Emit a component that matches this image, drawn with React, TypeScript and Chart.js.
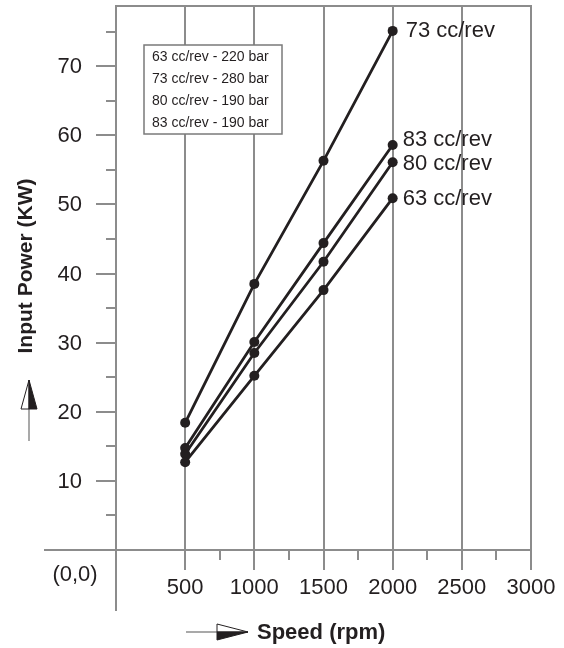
import React, { useEffect, useRef } from "react";
import { Chart, registerables } from "chart.js";

Chart.register(...registerables);

// ---- data ----
const speeds = [500, 1000, 1500, 2000];
const power63 = [12.7, 25.2, 37.6, 50.9];
const power73 = [18.4, 38.5, 56.3, 75.1];
const power80 = [13.9, 28.5, 41.7, 56.1];
const power83 = [14.75, 30.1, 44.4, 58.6];
const seriesNames = ["63 cc/rev", "73 cc/rev", "80 cc/rev", "83 cc/rev"];
const legendLines = [
  "63 cc/rev - 220 bar",
  "73 cc/rev - 280 bar",
  "80 cc/rev - 190 bar",
  "83 cc/rev - 190 bar",
];
const xMajorTicks = [500, 1000, 1500, 2000, 2500, 3000];
const xMinorTicks = [750, 1250, 1750, 2250, 2750];
const yMajorTicks = [10, 20, 30, 40, 50, 60, 70];
const yMinorTicks = [5, 15, 25, 35, 45, 55, 65, 75];
const xMax = 3000;
const yMax = 78.7;

const INK = "#231f20";
const GRAY = "#8c8c8c";
const FONT = "'Liberation Sans', Arial, Helvetica, sans-serif";

// label offsets relative to the last point of each series
const endLabelOffsets: Record<string, [number, number]> = {
  "63 cc/rev": [10, 1],
  "73 cc/rev": [13, 0],
  "80 cc/rev": [10, 2],
  "83 cc/rev": [10, -5],
};

const framePlugin = {
  id: "frame",
  beforeDatasetsDraw(chart: any) {
    const { ctx, chartArea, scales } = chart;
    const xs = scales.x;
    const ys = scales.y;
    const x0 = xs.getPixelForValue(0);
    const y0 = ys.getPixelForValue(0);
    const top = chartArea.top;
    const right = xs.getPixelForValue(xMax);
    ctx.save();
    ctx.strokeStyle = GRAY;
    ctx.lineWidth = 2;
    ctx.lineCap = "butt";
    xMajorTicks.forEach((v) => {
      const px = Math.round(xs.getPixelForValue(v));
      ctx.beginPath();
      ctx.moveTo(px, top);
      ctx.lineTo(px, y0 + 20);
      ctx.stroke();
    });
    xMinorTicks.forEach((v) => {
      const px = Math.round(xs.getPixelForValue(v));
      ctx.beginPath();
      ctx.moveTo(px, y0);
      ctx.lineTo(px, y0 + 10);
      ctx.stroke();
    });
    ctx.beginPath();
    ctx.moveTo(x0, top);
    ctx.lineTo(right + 1, top);
    ctx.stroke();
    ctx.beginPath();
    ctx.moveTo(Math.round(x0), top - 1);
    ctx.lineTo(Math.round(x0), y0 + 61);
    ctx.stroke();
    ctx.beginPath();
    ctx.moveTo(x0 - 72, Math.round(y0));
    ctx.lineTo(right + 1, Math.round(y0));
    ctx.stroke();
    yMajorTicks.forEach((v) => {
      const py = Math.round(ys.getPixelForValue(v));
      ctx.beginPath();
      ctx.moveTo(x0 - 20, py);
      ctx.lineTo(x0, py);
      ctx.stroke();
    });
    yMinorTicks.forEach((v) => {
      const py = Math.round(ys.getPixelForValue(v));
      ctx.beginPath();
      ctx.moveTo(x0 - 10, py);
      ctx.lineTo(x0, py);
      ctx.stroke();
    });

    // legend box
    const bx = 144, by = 45, bw = 138, bh = 89;
    ctx.fillStyle = "#ffffff";
    ctx.fillRect(bx, by, bw, bh);
    ctx.lineWidth = 1.5;
    ctx.strokeStyle = "#7a7a7a";
    ctx.strokeRect(bx, by, bw, bh);
    ctx.fillStyle = INK;
    ctx.font = `14px ${FONT}`;
    ctx.textAlign = "left";
    ctx.textBaseline = "middle";
    legendLines.forEach((t, i) => {
      ctx.fillText(t, bx + 8, by + 12 + i * 22);
    });
    ctx.restore();
  },
  afterDraw(chart: any) {
    const { ctx, scales } = chart;
    const xs = scales.x;
    const ys = scales.y;
    const x0 = xs.getPixelForValue(0);
    const y0 = ys.getPixelForValue(0);
    ctx.save();
    ctx.fillStyle = INK;
    ctx.font = `22px ${FONT}`;
    ctx.textAlign = "center";
    ctx.textBaseline = "middle";
    xMajorTicks.forEach((v) => {
      ctx.fillText(String(v), xs.getPixelForValue(v), y0 + 38);
    });
    ctx.textAlign = "right";
    yMajorTicks.forEach((v) => {
      ctx.fillText(String(v), x0 - 34, ys.getPixelForValue(v) + 1);
    });
    ctx.textAlign = "center";
    ctx.fillText("(0,0)", x0 - 41, y0 + 25);

    ctx.textAlign = "left";
    chart.data.datasets.forEach((ds: any, i: number) => {
      const meta = chart.getDatasetMeta(i);
      const last = meta.data[meta.data.length - 1];
      const off = endLabelOffsets[ds.label] || [10, 0];
      ctx.fillText(ds.label, last.x + off[0], last.y + off[1]);
    });

    ctx.font = `bold 22px ${FONT}`;
    ctx.textAlign = "left";
    ctx.fillText("Speed (rpm)", 257, 633);
    ctx.save();
    ctx.translate(26, 266);
    ctx.rotate(-Math.PI / 2);
    ctx.textAlign = "center";
    ctx.font = `bold 21px ${FONT}`;
    ctx.fillText("Input Power (KW)", 0, 0);
    ctx.restore();

    // y arrow
    ctx.strokeStyle = GRAY;
    ctx.lineWidth = 1.5;
    ctx.beginPath();
    ctx.moveTo(29, 441);
    ctx.lineTo(29, 405);
    ctx.stroke();
    ctx.lineWidth = 1;
    ctx.strokeStyle = INK;
    ctx.fillStyle = "#ffffff";
    ctx.beginPath();
    ctx.moveTo(29, 380);
    ctx.lineTo(21, 409);
    ctx.lineTo(29, 409);
    ctx.closePath();
    ctx.fill();
    ctx.stroke();
    ctx.fillStyle = INK;
    ctx.beginPath();
    ctx.moveTo(29, 380);
    ctx.lineTo(37, 409);
    ctx.lineTo(29, 409);
    ctx.closePath();
    ctx.fill();
    ctx.stroke();

    // x arrow
    ctx.strokeStyle = GRAY;
    ctx.lineWidth = 1.5;
    ctx.beginPath();
    ctx.moveTo(186, 632);
    ctx.lineTo(222, 632);
    ctx.stroke();
    ctx.lineWidth = 1;
    ctx.strokeStyle = INK;
    ctx.fillStyle = "#ffffff";
    ctx.beginPath();
    ctx.moveTo(248, 632);
    ctx.lineTo(217, 624);
    ctx.lineTo(217, 632);
    ctx.closePath();
    ctx.fill();
    ctx.stroke();
    ctx.fillStyle = INK;
    ctx.beginPath();
    ctx.moveTo(248, 632);
    ctx.lineTo(217, 640);
    ctx.lineTo(217, 632);
    ctx.closePath();
    ctx.fill();
    ctx.stroke();
    ctx.restore();
  },
};

function makeSeries(label: string, values: number[]) {
  return {
    label,
    data: speeds.map((s, i) => ({ x: s, y: values[i] })),
    borderColor: INK,
    backgroundColor: INK,
    borderWidth: 2.8,
    pointRadius: 5,
    pointBorderWidth: 0,
    pointBackgroundColor: INK,
    tension: 0,
    fill: false,
  };
}

export default function App() {
  const ref = useRef<HTMLCanvasElement | null>(null);
  useEffect(() => {
    if (!ref.current) return;
    const chart = new Chart(ref.current, {
      type: "line",
      data: {
        datasets: [
          makeSeries(seriesNames[0], power63),
          makeSeries(seriesNames[2], power80),
          makeSeries(seriesNames[3], power83),
          makeSeries(seriesNames[1], power73),
        ],
      },
      options: {
        animation: false,
        responsive: false,
        devicePixelRatio: 1,
        layout: { padding: { left: 116, right: 33, top: 6, bottom: 98 } },
        scales: {
          x: { type: "linear", min: 0, max: xMax, display: false },
          y: { type: "linear", min: 0, max: yMax, display: false },
        },
        plugins: {
          legend: { display: false },
          tooltip: { enabled: false },
        },
      },
      plugins: [framePlugin],
    } as any);
    return () => chart.destroy();
  }, []);
  return (
    <div style={{ position: "fixed", left: 0, top: 0, width: 564, height: 648, background: "#fff" }}>
      <canvas ref={ref} width={564} height={648} style={{ width: 564, height: 648 }} />
    </div>
  );
}
